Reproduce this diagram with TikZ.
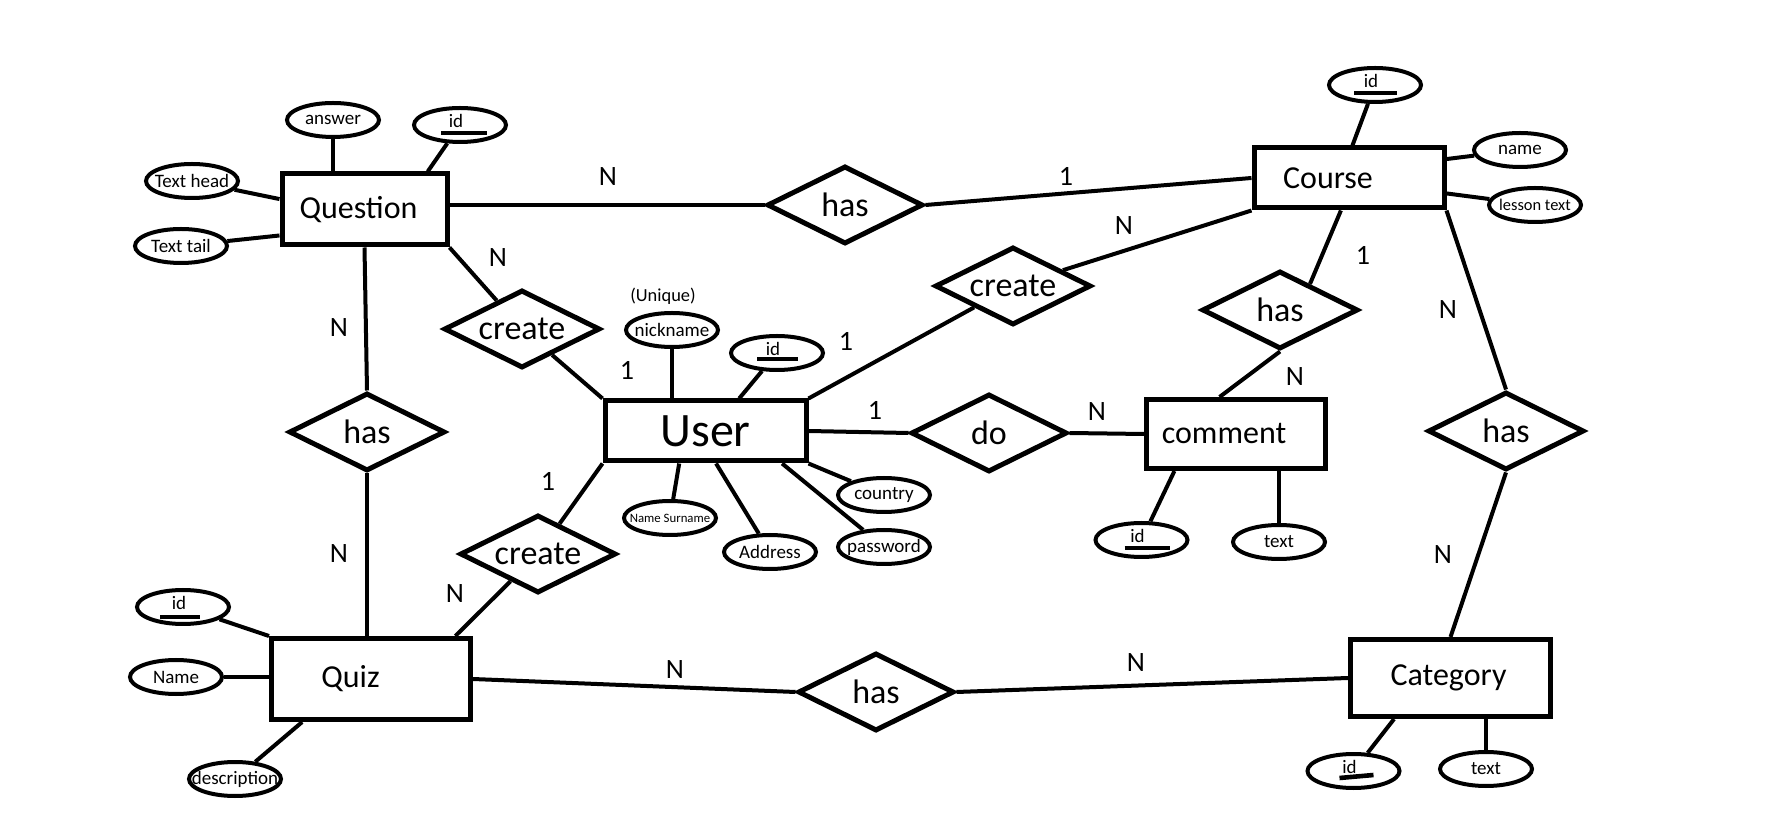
\documentclass[tikz,border=0pt]{standalone}
\usepackage{fontspec}
\setmainfont{Carlito}
\usetikzlibrary{shapes.geometric}
\begin{document}
\begin{tikzpicture}[x=0.5pt,y=-0.5pt,
  entity/.style={draw,line width=2.5pt,rectangle,inner sep=0pt,font=\fontsize{16}{16}\selectfont},
  etext/.style={inner sep=0pt,font=\fontsize{16}{16}\selectfont},
  rel/.style={draw,line width=2.5pt,diamond,aspect=2,inner sep=0pt,minimum width=78pt,minimum height=39pt,font=\fontsize{17}{17}\selectfont},
  attrbox/.style={draw,line width=2pt,ellipse,inner sep=0pt,minimum width=46pt,minimum height=17pt},
  atext/.style={inner sep=0pt,font=\fontsize{9.5}{9.5}\selectfont},
  attr/.style={attrbox,label={[atext]center:#1}},
  idattr/.style={attrbox,label={[atext,xshift=-2pt,yshift=2pt]center:id}},
  card/.style={inner sep=0pt,font=\fontsize{14}{14}\selectfont},
  conn/.style={line width=2pt},
  keybar/.style={line width=2.3pt},
]
\fill[white] (0,0) rectangle (1771,838);
\useasboundingbox (0,0) rectangle (1771,838);

% entities
\node[entity,minimum width=82.5pt,minimum height=35.5pt,label={[etext,xshift=-3pt]center:Question}] (q) at (364.5,209.5) {};
\node[entity,minimum width=95pt,minimum height=30pt,label={[etext,xshift=-10.5pt]center:Course}] (course) at (1349,178) {};
\node[entity,minimum width=100.5pt,minimum height=30pt,font=\fontsize{24}{24}\selectfont] (user) at (705.5,431) {User};
\node[entity,minimum width=89.5pt,minimum height=34.5pt,label={[etext,xshift=-6pt]center:comment}] (comment) at (1236,434) {};
\node[entity,minimum width=99.5pt,minimum height=40.5pt,label={[etext,xshift=-10.25pt]center:Quiz}] (quiz) at (371,679) {};
\node[entity,minimum width=100pt,minimum height=38.5pt,label={[etext,xshift=-1pt]center:Category}] (cat) at (1450.5,678) {};

% relationships
\node[rel] (has1) at (845,205) {has};
\node[rel] (cq) at (522,329) {create};
\node[rel] (has2) at (367,432) {has};
\node[rel] (cquiz) at (538,554) {create};
\node[rel] (has3) at (876,692) {has};
\node[rel] (do) at (989,433) {do};
\node[rel] (ccourse) at (1013,286) {create};
\node[rel] (has4) at (1280,310) {has};
\node[rel] (has5) at (1506,431) {has};

% attributes
\node[attr=answer] (qans) at (333,120) {};
\node[idattr] (qid) at (460,125) {};
\node[attr=Text head] (qth) at (192,181) {};
\node[attr=Text tail] (qtt) at (181,246) {};
\node[idattr] (cid) at (1375,85) {};
\node[attr=name] (cname) at (1520,150) {};
\node[attrbox,label={[atext,font=\fontsize{8.2}{8.2}\selectfont]center:lesson text}] (clt) at (1535,205) {};
\node[attr=nickname] (unick) at (672,330) {};
\node[inner sep=0pt,font=\fontsize{9.2}{9.2}\selectfont] (uniq) at (663,296) {(Unique)};
\node[idattr] (uid) at (777,353) {};
\node[attrbox,label={[atext,font=\fontsize{6.4}{6.4}\selectfont]center:Name Surname}] (uns) at (670,518) {};
\node[attr=Address] (uaddr) at (770,552) {};
\node[attr=country] (ucountry) at (884,495) {};
\node[attr=password] (upw) at (884,547) {};
\node[idattr] (cmid) at (1141.5,540) {};
\node[attr=text] (cmtext) at (1279,542) {};
\node[idattr] (qzid) at (183,607) {};
\node[attr=Name] (qzname) at (176,677) {};
\node[attr=description] (qzdesc) at (235,779) {};
\node[idattr] (catid) at (1353.5,771) {};
\node[attr=text] (cattext) at (1486,769) {};

% key underlines
\draw[keybar] ([shift={(-19,8)}]qid.center) -- ([shift={(27,8)}]qid.center);
\draw[keybar] ([shift={(-21,8)}]cid.center) -- ([shift={(22,8)}]cid.center);
\draw[keybar] ([shift={(-20,6)}]uid.center) -- ([shift={(21,6)}]uid.center);
\draw[keybar] ([shift={(-17,8)}]cmid.center) -- ([shift={(28,8)}]cmid.center);
\draw[keybar] ([shift={(-23,10)}]qzid.center) -- ([shift={(17,10)}]qzid.center);
\draw[keybar] ([shift={(-14,7)}]catid.center) -- ([shift={(20,4)}]catid.center);

% relationship connectors
\draw[conn] (q.east |- has1.west) -- (has1.west);
\draw[conn] (has1.east) -- (course.west);
\draw[conn] (q.south) -- (has2.north);
\draw[conn] (q.south east) -- (cq);
\draw[conn] (cq) -- (user.north west);
\draw[conn] (has2.south) -- (has2.south |- quiz.north);
\draw[conn] (user.south west) -- (cquiz);
\draw[conn] (cquiz) -- (quiz.27);
\draw[conn] (quiz.east) -- (has3.west);
\draw[conn] (has3.east) -- (cat.west);
\draw[conn] (user.east) -- (do.west);
\draw[conn] (do.east) -- (comment.west);
\draw[conn] (user.north east) -- (ccourse);
\draw[conn] (ccourse) -- (course.south west);
\draw[conn] (course.256) -- (has4.41);
\draw[conn] (has4.south) -- (comment.114);
\draw[conn] (course.south east) -- (has5.north);
\draw[conn] (has5.south) -- (cat.north);

% attribute connectors
\draw[conn] (qans) -- (qans |- q.north);
\draw[conn] (qid) -- (q.31);
\draw[conn] (qth) -- (q.173);
\draw[conn] (qtt) -- (q.197);
\draw[conn] (cid) -- (course.84);
\draw[conn] (cname) -- (course.11);
\draw[conn] (clt) -- (course.351);
\draw[conn] (unick) -- (unick |- user.north);
\draw[conn] (uid) -- (user.44);
\draw[conn] (uns) -- (user.231);
\draw[conn] (uaddr) -- (user.288);
\draw[conn] (ucountry) -- (user.south east);
\draw[conn] (upw) -- (user.337);
\draw[conn] (cmid) -- (comment.211);
\draw[conn] (cmtext) -- (cmtext |- comment.south);
\draw[conn] (qzid) -- (quiz.north west);
\draw[conn] (qzname) -- (qzname -| quiz.west);
\draw[conn] (qzdesc) -- (quiz.212);
\draw[conn] (catid) -- (cat.216);
\draw[conn] (cattext) -- (cattext |- cat.south);

% cardinalities
\node[card] (k1) at (608,177) {N};
\node[card] (k2) at (1066,176) {1};
\node[card] (k3) at (498,258) {N};
\node[card] (k4) at (339,328) {N};
\node[card] (k5) at (627,370) {1};
\node[card] (k6) at (846,341) {1};
\node[card] (k7) at (875,410) {1};
\node[card] (k8) at (1097,412) {N};
\node[card] (k9) at (1124,226) {N};
\node[card] (k10) at (1363,255) {1};
\node[card] (k11) at (1295,377) {N};
\node[card] (k12) at (1448,310) {N};
\node[card] (k13) at (1443,555) {N};
\node[card] (k14) at (339,554) {N};
\node[card] (k15) at (548,481) {1};
\node[card] (k16) at (455,594) {N};
\node[card] (k17) at (675,670) {N};
\node[card] (k18) at (1136,663) {N};
\end{tikzpicture}
\end{document}
